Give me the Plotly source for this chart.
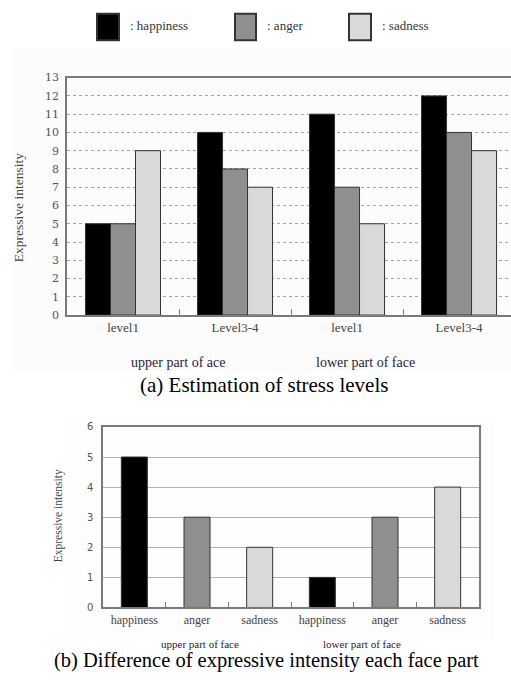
import plotly.graph_objects as go

# ---- data ----
emotions = ["happiness", "anger", "sadness"]
stress_levels = ["level1", "Level3-4", "level1", "Level3-4"]
happiness_a = [5, 10, 11, 12]
anger_a = [5, 8, 7, 10]
sadness_a = [9, 7, 5, 9]
diff_labels = ["happiness", "anger", "sadness", "happiness", "anger", "sadness"]
diff_values = [5, 3, 2, 1, 3, 4]
y_ticks_a = list(range(0, 14))
y_ticks_b = list(range(0, 7))

colors = {"happiness": "#000000", "anger": "#8f8f8f", "sadness": "#d9d9d9"}
W, H = 511, 692
SERIF = "Liberation Serif"


def fx(x):
    return x / W


def fy(y):
    return 1 - y / H


fig = go.Figure()

series_a = {"happiness": happiness_a, "anger": anger_a, "sadness": sadness_a}
for emo in emotions:
    fig.add_trace(go.Bar(
        x=list(range(len(stress_levels))), y=series_a[emo], name=emo,
        marker=dict(color=colors[emo], line=dict(color="#333333", width=1)),
        xaxis="x", yaxis="y", showlegend=False, hoverinfo="skip"))

fig.add_trace(go.Bar(
    x=list(range(len(diff_labels))), y=diff_values, width=0.415,
    marker=dict(color=[colors[e] for e in diff_labels], line=dict(color="#333333", width=1)),
    xaxis="x2", yaxis="y2", showlegend=False, hoverinfo="skip"))

fig.update_layout(
    width=W, height=H, margin=dict(l=0, r=0, t=0, b=0),
    paper_bgcolor="white", plot_bgcolor="white",
    barmode="group", bargap=0.33, bargroupgap=0,
    xaxis=dict(domain=[fx(67), 1], range=[-0.5, 3.464], anchor="y",
               tickmode="array", tickvals=list(range(len(stress_levels))), ticktext=stress_levels,
               ticks="", showgrid=False, showline=True, linecolor="#7a7a7a", linewidth=1.5,
               mirror=True, zeroline=False,
               minor=dict(tickmode="array", tickvals=[0.5, 1.5, 2.5], ticks="inside",
                          ticklen=6, tickcolor="#7a7a7a", tickwidth=1, showgrid=False),
               tickfont=dict(family=SERIF, size=13, color="#444444")),
    yaxis=dict(domain=[fy(315), fy(73)], range=[0, 13], anchor="x",
               tickmode="array", tickvals=y_ticks_a, ticks="",
               showgrid=True, gridcolor="#a5a5a5", gridwidth=1, griddash="dot",
               showline=True, linecolor="#7a7a7a", linewidth=1.5, zeroline=False,
               ticklabelstandoff=4,
               tickfont=dict(family="DejaVu Serif", size=11, color="#555555")),
    xaxis2=dict(domain=[fx(103), fx(479)], range=[-0.5, 5.5], anchor="y2",
                tickmode="array", tickvals=list(range(len(diff_labels))), ticktext=diff_labels,
                ticks="", showgrid=False, showline=True, linecolor="#7a7a7a", linewidth=1.5,
                mirror=True, zeroline=False,
                minor=dict(tickmode="array", tickvals=[0.5, 1.5, 2.5, 3.5, 4.5, 5.5],
                           ticks="inside", ticklen=6, tickcolor="#7a7a7a", tickwidth=1,
                           showgrid=False),
                tickfont=dict(family=SERIF, size=12, color="#444444")),
    yaxis2=dict(domain=[fy(613), fy(429)], range=[0, 6], anchor="x2",
                tickmode="array", tickvals=y_ticks_b, ticks="",
                showgrid=True, gridcolor="#b0b0b0", gridwidth=1,
                showline=True, linecolor="#7a7a7a", linewidth=1.5, mirror=True, zeroline=False,
                ticklabelstandoff=6,
                tickfont=dict(family="DejaVu Sans", size=10, color="#555555")),
)

shapes = []
# faint backgrounds of the pasted figures
shapes.append(dict(type="rect", xref="paper", yref="paper", x0=fx(13), x1=1, y0=fy(372), y1=fy(43),
                   fillcolor="#fcfcfc", line=dict(width=0), layer="below"))
shapes.append(dict(type="rect", xref="paper", yref="paper", x0=fx(70), x1=fx(495), y0=fy(645), y1=fy(420),
                   fillcolor="#fdfdfd", line=dict(width=0), layer="below"))

annotations = []
# legend swatches + labels
legend_pos = [(97, 119, 128), (235, 256, 265), (349, 371, 380)]
for emo, (x0, x1, tx) in zip(emotions, legend_pos):
    shapes.append(dict(type="rect", xref="paper", yref="paper", x0=fx(x0), x1=fx(x1), y0=fy(35), y1=fy(8),
                       fillcolor=colors[emo], line=dict(color="#333333", width=2)))
    annotations.append(dict(text=": " + emo, x=fx(tx), y=fy(20), xref="paper", yref="paper",
                            xanchor="left", yanchor="middle", showarrow=False,
                            font=dict(family=SERIF, size=13, color="#333333")))

# axis titles
annotations.append(dict(text="Expressive intensity", x=fx(18), y=fy(206), xref="paper", yref="paper",
                        textangle=-90, showarrow=False, xanchor="center", yanchor="middle",
                        font=dict(family=SERIF, size=13.5, color="#444444")))
annotations.append(dict(text="Expressive intensity", x=fx(58), y=fy(520), xref="paper", yref="paper",
                        textangle=-90, showarrow=False, xanchor="center", yanchor="middle",
                        font=dict(family=SERIF, size=11.5, color="#444444")))
# face part labels
annotations.append(dict(text="upper part of ace", x=fx(178), y=fy(363), xref="paper", yref="paper",
                        showarrow=False, font=dict(family=SERIF, size=14, color="#2a2238")))
annotations.append(dict(text="lower part of face", x=fx(417), y=fy(363), xref="paper", yref="paper",
                        showarrow=False, font=dict(family=SERIF, size=14, color="#2a2238")))
annotations.append(dict(text="upper part of face", x=fx(200), y=fy(657), xref="paper", yref="paper",
                        showarrow=False, borderpad=0,
                        font=dict(family=SERIF, size=11, color="#2a2238")))
annotations.append(dict(text="lower part of face", x=fx(402), y=fy(657), xref="paper", yref="paper",
                        showarrow=False, borderpad=0,
                        font=dict(family=SERIF, size=11, color="#2a2238")))
# captions
annotations.append(dict(text="(a) Estimation of stress levels", x=fx(264), y=fy(386), xref="paper",
                        yref="paper", showarrow=False, font=dict(family=SERIF, size=21, color="#000000")))
annotations.append(dict(text="(b) Difference of expressive intensity each face part", x=fx(266), y=fy(680),
                        xref="paper", yref="paper", showarrow=False, borderpad=0,
                        font=dict(family=SERIF, size=20.5, color="#000000")))

fig.update_layout(shapes=shapes, annotations=annotations)
fig.write_html("out.html", config={"displayModeBar": False},
               post_script="document.body.style.margin='0px';")
